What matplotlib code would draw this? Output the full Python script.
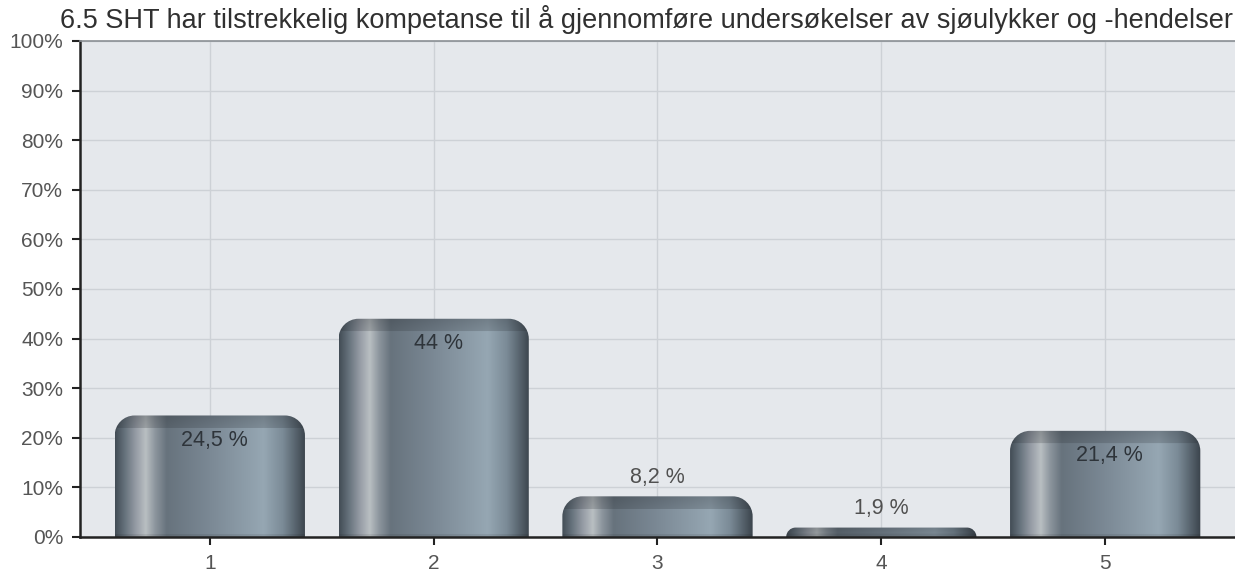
import numpy as np
import matplotlib
matplotlib.use("Agg")
import matplotlib.pyplot as plt
from matplotlib.path import Path
from matplotlib.patches import PathPatch
from matplotlib.colors import LinearSegmentedColormap

plt.rcParams['font.family'] = ['Liberation Sans', 'DejaVu Sans']

title = "6.5 SHT har tilstrekkelig kompetanse til å gjennomføre undersøkelser av sjøulykker og -hendelser"
categories = ["1", "2", "3", "4", "5"]
values = [24.5, 44.0, 8.2, 1.9, 21.4]
labels = ["24,5 %", "44 %", "8,2 %", "1,9 %", "21,4 %"]
yticks = [0, 10, 20, 30, 40, 50, 60, 70, 80, 90, 100]
ytick_labels = [f"{v}%" for v in yticks]

W, H = 1235, 576
fig = plt.figure(figsize=(W / 100, H / 100), dpi=100)
ax_l, ax_r, ax_t, ax_b = 80, 1235, 41, 537
ax = fig.add_axes([ax_l / W, 1 - ax_b / H, (ax_r - ax_l) / W, (ax_b - ax_t) / H])
ax.set_facecolor("#e5e8ec")

x = np.arange(1, len(categories) + 1)
ax.set_xlim(0.42, 5.58)
ax.set_ylim(0, 100)

px_per_x = (ax_r - ax_l) / (5.58 - 0.42)
px_per_y = (ax_b - ax_t) / 100.0

# gridlines
ax.set_axisbelow(True)
ax.grid(True, color="#cdd1d6", linewidth=1.0)

bars = ax.bar(x, values, width=0.85, color="none", edgecolor="none", zorder=2)

# horizontal gradient stops (fraction across bar width)
stops = [
    (0.00, "#434d56"),
    (0.05, "#66727c"),
    (0.11, "#979da6"),
    (0.16, "#b9bfc2"),
    (0.21, "#8c959d"),
    (0.27, "#67737d"),
    (0.50, "#7b8995"),
    (0.78, "#96a7b3"),
    (0.88, "#7b8b97"),
    (0.95, "#56626c"),
    (1.00, "#3b444c"),
]
cmap = LinearSegmentedColormap.from_list("bar", stops)
grad_x = np.linspace(0, 1, 256)
row = cmap(grad_x)[:, :3]

k = 0.5523
for rect in bars:
    x0 = rect.get_x()
    w = rect.get_width()
    h = rect.get_height()
    x1 = x0 + w
    hpx = h * px_per_y
    rpx = min(20.0, hpx)
    rx = rpx / px_per_x
    ry = rpx / px_per_y
    verts = [
        (x0, 0), (x0, h - ry),
        (x0, h - ry + k * ry), (x0 + rx - k * rx, h), (x0 + rx, h),
        (x1 - rx, h),
        (x1 - rx + k * rx, h), (x1, h - ry + k * ry), (x1, h - ry),
        (x1, 0), (x0, 0),
    ]
    codes = [Path.MOVETO, Path.LINETO,
             Path.CURVE4, Path.CURVE4, Path.CURVE4,
             Path.LINETO,
             Path.CURVE4, Path.CURVE4, Path.CURVE4,
             Path.LINETO, Path.CLOSEPOLY]
    path = Path(verts, codes)
    patch = PathPatch(path, facecolor="none", edgecolor="none", transform=ax.transData)
    ax.add_patch(patch)

    ny = max(int(round(hpx)), 2)
    img = np.repeat(row[None, :, :], ny, axis=0).copy()
    # darker top cap band (~13 px)
    cap = min(13, ny)
    for i in range(cap):
        f = 0.70 + 0.10 * (i / max(cap - 1, 1))
        img[i] = img[i] * f + np.array([0.20, 0.22, 0.25]) * (1 - f) * 0.6
    # slight darkening at very bottom
    img[-3:] = img[-3:] * 0.92
    im = ax.imshow(img, extent=[x0, x1, 0, h], aspect="auto", zorder=3,
                   interpolation="bilinear", origin="upper")
    im.set_clip_path(patch)

# value labels
for xi, v, lab in zip(x, values, labels):
    if v > 15:
        ax.text(xi + 0.02, v - 25 / px_per_y, lab, ha="center", va="center",
                fontsize=15.5, color="#2e343a", zorder=5)
    else:
        ax.text(xi, v + 19 / px_per_y, lab, ha="center", va="center",
                fontsize=15.5, color="#505050", zorder=5)

ax.set_xticks(x)
ax.set_xticklabels(categories)
ax.set_yticks(yticks)
ax.set_yticklabels(ytick_labels)
ax.tick_params(axis="both", labelsize=15, labelcolor="#555555", color="#222222",
               direction="out", width=1.5)
ax.tick_params(axis="y", length=6, pad=6)
ax.tick_params(axis="x", length=6, pad=6)

for s in ["right"]:
    ax.spines[s].set_visible(False)
ax.spines["top"].set_color("#8a8f94")
ax.spines["top"].set_linewidth(1.2)
ax.spines["left"].set_color("#222222")
ax.spines["left"].set_linewidth(1.8)
ax.spines["bottom"].set_color("#222222")
ax.spines["bottom"].set_linewidth(1.8)
for s in ax.spines.values():
    s.set_zorder(6)

fig.text(647 / W, 1 - 20 / H, title, ha="center", va="center",
         fontsize=19.5, color="#303030")

fig.savefig("out.png", dpi=100, facecolor="white")
